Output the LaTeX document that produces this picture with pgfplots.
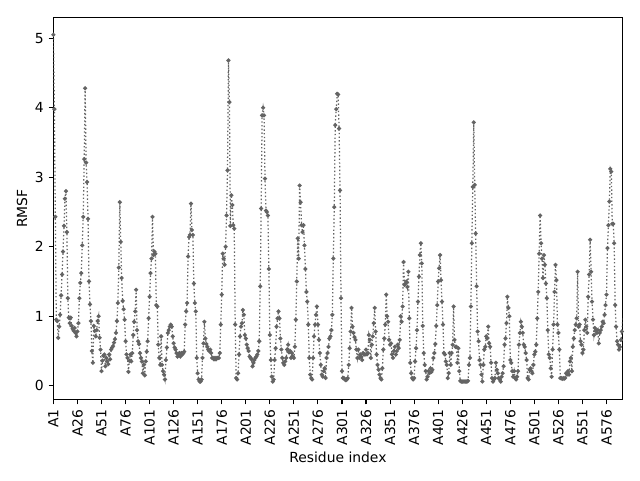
\documentclass[border=0pt]{standalone}
\usepackage{fontspec}
\setmainfont{DejaVu Sans}
\usepackage{pgfplots}
\pgfplotsset{compat=1.18}
\definecolor{linegray}{RGB}{100,100,100}
\begin{document}
\begin{tikzpicture}
\path[use as bounding box] (-38.45pt,-57.9pt) rectangle (422.3pt,287.7pt);
\begin{axis}[
  at={(0pt,0pt)}, anchor=south west,
  scale only axis, width=409.6pt, height=275.2pt,
  xmin=0, xmax=591.5, ymin=-0.2, ymax=5.3,
  xtick={0,25,...,575},
  xticklabels={A1,A26,A51,A76,A101,A126,A151,A176,A201,A226,A251,A276,A301,A326,A351,A376,A401,A426,A451,A476,A501,A526,A551,A576},
  ytick={0,1,2,3,4,5},
  tick align=outside, tick pos=left, major tick length=3.5pt,
  every tick/.style={black, line width=0.8pt},
  axis line style={line width=0.8pt},
  xticklabel style={rotate=90, anchor=east},
  /pgf/number format/assume math mode=true,
  xlabel={Residue index}, ylabel={RMSF},
  xlabel style={at={(axis description cs:0.5,-0.150)}, anchor=center},
  ylabel style={at={(axis description cs:-0.0552,0.5)}, anchor=center},
  clip=true,
]
\addplot[color=linegray, line width=0.9pt, dash pattern=on 1pt off 1.65pt,
  mark=*, mark size=1.0pt, mark options={solid, fill=linegray, draw=linegray}]
  table[x expr=\coordindex, y index=0, header=false, row sep=\\] {
5.05\\3.98\\2.43\\0.95\\0.93\\0.69\\0.85\\1.02\\1.30\\1.60\\
1.93\\2.30\\2.69\\2.80\\2.21\\1.26\\0.98\\0.90\\0.98\\0.86\\
0.82\\0.79\\0.83\\0.76\\0.71\\0.78\\0.90\\1.26\\1.48\\1.62\\
2.02\\2.43\\3.26\\4.28\\3.21\\2.93\\2.40\\1.50\\1.17\\0.93\\
0.50\\0.33\\0.86\\0.79\\0.71\\0.80\\0.93\\1.00\\0.69\\0.52\\
0.21\\0.36\\0.43\\0.45\\0.28\\0.40\\0.35\\0.31\\0.45\\0.38\\
0.52\\0.55\\0.57\\0.62\\0.67\\0.76\\0.93\\1.19\\1.70\\2.64\\
2.07\\1.55\\1.22\\1.10\\0.95\\0.64\\0.45\\0.40\\0.20\\0.36\\
0.45\\0.35\\0.47\\0.73\\0.92\\1.07\\1.38\\0.80\\0.64\\0.60\\
0.47\\0.40\\0.35\\0.18\\0.30\\0.15\\0.35\\0.49\\0.64\\0.97\\
1.28\\1.62\\1.83\\2.43\\1.88\\1.93\\1.90\\1.16\\1.14\\0.59\\
0.40\\0.30\\0.71\\0.30\\0.21\\0.16\\0.09\\0.37\\0.55\\0.76\\
0.80\\0.85\\0.88\\0.85\\0.71\\0.61\\0.55\\0.52\\0.47\\0.42\\
0.45\\0.47\\0.42\\0.47\\0.45\\0.47\\0.49\\0.88\\1.07\\1.19\\
1.86\\2.14\\2.17\\2.62\\2.24\\2.17\\1.47\\1.19\\1.07\\0.40\\
0.18\\0.09\\0.06\\0.06\\0.09\\0.40\\0.61\\0.92\\0.68\\0.60\\
0.56\\0.52\\0.50\\0.52\\0.47\\0.40\\0.40\\0.38\\0.40\\0.38\\
0.40\\0.40\\0.40\\0.47\\0.88\\1.31\\1.90\\1.83\\1.74\\2.00\\
2.45\\3.10\\4.68\\4.08\\2.30\\2.74\\2.60\\2.31\\2.26\\0.88\\
0.11\\0.09\\0.18\\0.45\\0.71\\0.85\\0.90\\1.09\\1.02\\0.73\\
0.68\\0.59\\0.54\\0.50\\0.42\\0.40\\0.38\\0.28\\0.33\\0.37\\
0.40\\0.42\\0.45\\0.50\\0.64\\1.43\\2.55\\3.89\\4.00\\3.89\\
2.98\\2.52\\2.50\\2.45\\1.68\\0.73\\0.37\\0.13\\0.06\\0.09\\
0.37\\0.54\\0.85\\0.97\\1.07\\0.97\\0.68\\0.52\\0.40\\0.33\\
0.30\\0.35\\0.40\\0.52\\0.59\\0.48\\0.50\\0.40\\0.47\\0.42\\
0.40\\0.56\\0.95\\1.50\\2.12\\1.83\\2.88\\2.64\\2.31\\2.21\\
2.31\\2.02\\1.68\\1.35\\1.21\\0.88\\0.40\\0.16\\0.11\\0.09\\
0.40\\0.71\\0.88\\1.02\\1.14\\0.88\\0.66\\0.47\\0.30\\0.16\\
0.13\\0.21\\0.25\\0.11\\0.40\\0.47\\0.56\\0.68\\0.71\\0.80\\
1.02\\1.83\\2.57\\3.75\\3.98\\4.20\\4.19\\3.70\\2.81\\1.26\\
0.21\\0.11\\0.11\\0.09\\0.08\\0.09\\0.11\\0.30\\0.54\\0.78\\
1.12\\0.85\\0.76\\0.70\\0.66\\0.52\\0.40\\0.52\\0.40\\0.45\\
0.42\\0.37\\0.47\\0.45\\0.45\\0.52\\0.45\\0.47\\0.73\\0.66\\
0.40\\0.59\\0.71\\0.90\\1.12\\0.78\\0.45\\0.30\\0.23\\0.16\\
0.11\\0.09\\0.25\\0.52\\0.68\\0.88\\1.31\\1.00\\0.92\\0.66\\
0.59\\0.61\\0.45\\0.40\\0.50\\0.56\\0.45\\0.50\\0.59\\0.54\\
0.66\\1.00\\0.92\\1.14\\1.78\\1.45\\1.47\\1.50\\1.42\\1.64\\
0.97\\0.33\\0.18\\0.11\\0.09\\0.11\\0.35\\0.54\\0.80\\1.21\\
1.57\\1.88\\2.05\\1.76\\0.86\\0.47\\0.30\\0.21\\0.09\\0.13\\
0.21\\0.18\\0.25\\0.20\\0.23\\0.40\\0.47\\0.60\\0.86\\1.16\\
1.50\\1.69\\1.88\\1.52\\1.21\\0.88\\0.47\\0.45\\0.35\\0.30\\
0.11\\0.18\\0.47\\0.30\\0.47\\0.59\\1.14\\0.66\\0.56\\0.56\\
0.33\\0.54\\0.21\\0.07\\0.06\\0.06\\0.06\\0.06\\0.06\\0.06\\
0.06\\0.07\\0.30\\0.40\\1.14\\2.05\\2.86\\3.79\\2.89\\2.19\\
1.43\\0.78\\0.64\\0.37\\0.30\\0.16\\0.06\\0.30\\0.52\\0.56\\
0.71\\0.68\\0.85\\0.61\\0.56\\0.33\\0.11\\0.06\\0.09\\0.11\\
0.33\\0.23\\0.18\\0.11\\0.09\\0.06\\0.13\\0.18\\0.28\\0.59\\
0.68\\0.90\\1.28\\1.12\\1.00\\0.37\\0.33\\0.21\\0.13\\0.21\\
0.11\\0.09\\0.13\\0.21\\0.59\\0.76\\0.92\\0.85\\0.76\\0.59\\
0.56\\0.47\\0.37\\0.11\\0.09\\0.23\\0.25\\0.21\\0.18\\0.30\\
0.45\\0.49\\0.59\\0.97\\1.35\\1.90\\2.45\\2.05\\1.83\\1.55\\
1.88\\1.74\\1.47\\1.26\\0.80\\0.45\\0.40\\0.25\\0.13\\0.52\\
0.88\\1.35\\1.74\\1.52\\0.88\\0.76\\0.52\\0.11\\0.11\\0.10\\
0.11\\0.10\\0.11\\0.18\\0.16\\0.21\\0.16\\0.35\\0.40\\0.21\\
0.56\\0.68\\0.80\\0.88\\0.97\\1.64\\0.85\\0.88\\0.64\\0.59\\
0.47\\0.52\\0.80\\0.95\\0.85\\0.76\\1.28\\1.60\\2.10\\1.64\\
1.21\\0.95\\0.73\\0.83\\0.80\\0.76\\0.80\\0.61\\0.76\\0.80\\
0.85\\0.92\\0.90\\1.02\\1.16\\1.31\\1.98\\2.31\\2.65\\3.12\\
3.08\\2.33\\2.33\\2.05\\1.16\\0.85\\0.64\\0.59\\0.52\\0.56\\
0.66\\0.78\\1.00\\
};
\end{axis}
\end{tikzpicture}
\end{document}
